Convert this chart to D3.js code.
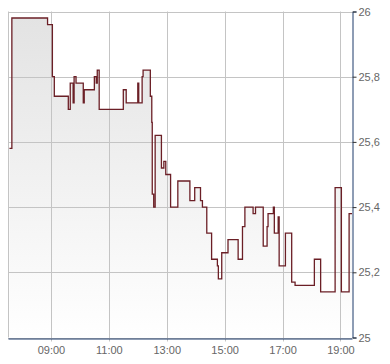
<!DOCTYPE html>
<html>
<head>
<meta charset="utf-8">
<script src="https://cdn.jsdelivr.net/npm/d3@7"></script>
<style>
  body { margin: 0; background: #fff; }
  svg { display: block; }
  .tick text { font-family: "Liberation Sans", Arial, sans-serif; font-size: 11px; fill: #666; }
</style>
</head>
<body>
<script>
// price steps (time of change, new price)
const times = ["07:34","07:39","08:53","09:03","09:07","09:36","09:40","09:46","09:48","09:52",
  "10:07","10:09","10:30","10:34","10:36","10:40","11:30","11:36","12:00","12:02",
  "12:09","12:11","12:26","12:29","12:30","12:33","12:36","12:49","12:54","12:58",
  "13:08","13:23","13:48","13:58","14:10","14:14","14:23","14:33","14:45","14:47",
  "14:54","15:07","15:28","15:37","15:42","15:59","16:04","16:20","16:28","16:30",
  "16:41","16:43","16:51","16:53","17:06","17:19","17:26","18:06","18:19","18:49",
  "19:02","19:18","19:24"]
const prices = [25.58,25.98,25.96,25.80,25.74,25.70,25.78,25.72,25.80,25.78,
  25.72,25.76,25.80,25.78,25.82,25.70,25.76,25.72,25.78,25.72,
  25.80,25.82,25.74,25.66,25.44,25.40,25.62,25.52,25.54,25.50,
  25.40,25.48,25.42,25.46,25.42,25.40,25.32,25.24,25.22,25.18,
  25.26,25.30,25.24,25.34,25.40,25.38,25.40,25.28,25.34,25.38,
  25.40,25.32,25.37,25.22,25.32,25.17,25.16,25.24,25.14,25.46,
  25.14,25.38,25.38]
const xTicks = ["09:00","11:00","13:00","15:00","17:00","19:00"]
const yTicks = [25, 25.2, 25.4, 25.6, 25.8, 26]
const xStart = "07:31", xEnd = "19:24"

const width = 390, height = 364
const margin = { top: 11.5, right: 38, bottom: 26.5, left: 8 }

const parse = d3.timeParse("%H:%M")
const data = times.map((t, i) => ({ t: parse(t), v: prices[i] }))

const x = d3.scaleTime()
    .domain([parse(xStart), parse(xEnd)])
    .range([margin.left, width - margin.right])
const y = d3.scaleLinear()
    .domain([25, 26])
    .range([height - margin.bottom, margin.top])

const svg = d3.select("body").append("svg")
    .attr("width", width)
    .attr("height", height)

const grad = svg.append("defs").append("linearGradient")
    .attr("id", "fill")
    .attr("x1", 0).attr("y1", 0).attr("x2", 0).attr("y2", 1)
grad.append("stop").attr("offset", "0%").attr("stop-color", "#e3e3e3")
grad.append("stop").attr("offset", "100%").attr("stop-color", "#ffffff")

// area under the line
const area = d3.area()
    .curve(d3.curveStepAfter)
    .x(d => x(d.t))
    .y0(y(25))
    .y1(d => y(d.v))
svg.append("path")
    .datum(data)
    .attr("fill", "url(#fill)")
    .attr("d", area)

// grid
svg.append("g")
    .attr("stroke", "#c4c4c4")
    .attr("stroke-width", 1)
    .selectAll("line")
    .data(xTicks)
    .join("line")
    .attr("x1", d => Math.round(x(parse(d))) + 0.5)
    .attr("x2", d => Math.round(x(parse(d))) + 0.5)
    .attr("y1", y(26))
    .attr("y2", y(25) + 4)
svg.append("g")
    .attr("stroke", "#c4c4c4")
    .selectAll("line")
    .data(yTicks)
    .join("line")
    .attr("x1", margin.left)
    .attr("x2", width - margin.right)
    .attr("y1", d => Math.round(y(d)) + 0.5)
    .attr("y2", d => Math.round(y(d)) + 0.5)
svg.append("line")
    .attr("stroke", "#c4c4c4")
    .attr("x1", margin.left + 0.5).attr("x2", margin.left + 0.5)
    .attr("y1", y(26)).attr("y2", y(25))

// price line
const line = d3.line()
    .curve(d3.curveStepAfter)
    .x(d => x(d.t))
    .y(d => y(d.v))
svg.append("path")
    .datum(data)
    .attr("fill", "none")
    .attr("stroke", "#6b1f26")
    .attr("stroke-width", 1.3)
    .attr("d", line)

// axes
const fmt = d => String(d).replace(".", ",")
const yAxis = svg.append("g")
    .attr("transform", `translate(${Math.round(x(parse(xEnd))) + 0.5},0)`)
    .call(d3.axisRight(y).tickValues(yTicks).tickFormat(fmt).tickSize(4).tickPadding(2))
yAxis.select(".domain").attr("stroke", "#1d3a6b")
yAxis.selectAll(".tick line").attr("stroke", "#333")

const xAxis = svg.append("g")
    .attr("transform", `translate(0,${Math.round(y(25)) + 0.5})`)
    .call(d3.axisBottom(x).tickValues(xTicks.map(parse)).tickFormat(d3.timeFormat("%H:%M")).tickSize(0).tickPadding(8))
xAxis.select(".domain").attr("stroke", "#1d3a6b")
</script>
</body>
</html>
